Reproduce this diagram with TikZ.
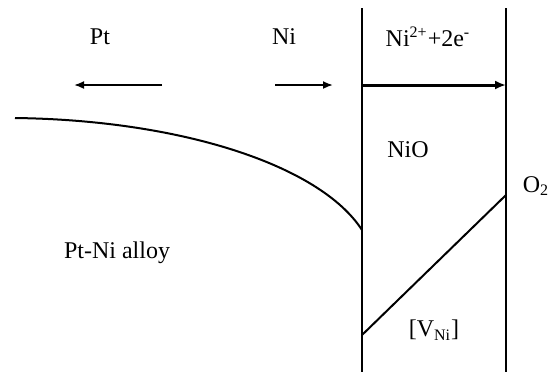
\documentclass[tikz,border=0pt]{standalone}
\usepackage{fontspec}
\setmainfont{Liberation Serif}
\usetikzlibrary{arrows.meta}
\begin{document}
\begin{tikzpicture}[x=0.5pt,y=-0.5pt,
label/.style={inner sep=1pt, font=\fontsize{12}{14}\selectfont},
wall/.style={line width=1pt},
flux/.style={-{Latex[length=5pt,width=4pt]}, line width=0.9pt},
arrow/.style={-{Latex[length=5.5pt,width=4.5pt]}, line width=1.5pt}
]
\useasboundingbox (0,0) rectangle (551,372);
\coordinate (intop) at (362,8);
\coordinate (inbot) at (362,372);
\coordinate (outtop) at (506,8);
\coordinate (outbot) at (506,372);
\node[label] (pt) at (100,37) {Pt};
\node[label] (ni) at (284,37) {Ni};
\node[label] (ion) at (428,37) {Ni\textsuperscript{2+}+2e\textsuperscript{-}};
\node[label] (nio) at (408,150) {NiO};
\node[label] (o2) at (536,186) {O\textsubscript{2}};
\node[label] (vac) at (434,330) {[V\textsubscript{Ni}]};
\node[label] (alloy) at (117,253) {Pt-Ni alloy};
\coordinate (ptA) at (162,85);
\coordinate (ptB) at (74,85);
\coordinate (niA) at (275,85);
\coordinate (niB) at (333,85);
\coordinate (ionA) at (362,85);
\coordinate (ionB) at (506,85);
\coordinate (cA) at (15,118);
\coordinate (cB) at (362,230);
\coordinate (vA) at (362,335);
\coordinate (vB) at (506,195);
\draw[wall] (intop) -- (inbot);
\draw[wall] (outtop) -- (outbot);
\draw[flux] (ptA) -- (ptB);
\draw[flux] (niA) -- (niB);
\draw[arrow] (ionA) -- (ionB);
\draw[wall] (cA) .. controls (180,120) and (320,165) .. (cB);
\draw[wall] (vA) -- (vB);
\end{tikzpicture}
\end{document}
